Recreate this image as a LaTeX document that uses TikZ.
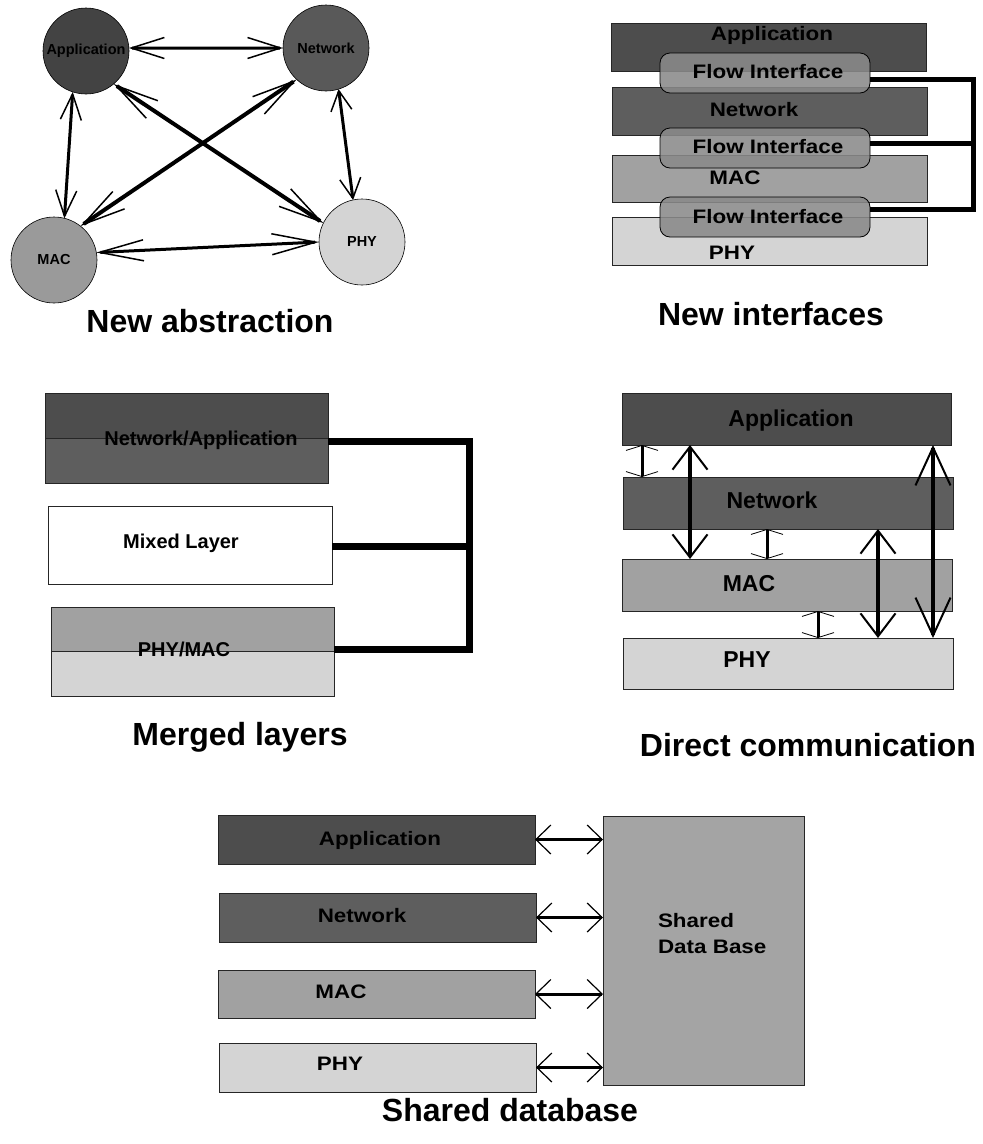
\documentclass[tikz,border=0pt]{standalone}
\usepackage{fontspec}
\setmainfont{Liberation Sans}
\newfontfamily\stf[FakeStretch=1.15]{Liberation Sans}
\usetikzlibrary{arrows.meta}
\definecolor{cApp}{HTML}{4D4D4D}
\definecolor{cNet}{HTML}{5E5E5E}
\definecolor{cMac}{HTML}{A1A1A1}
\definecolor{cPhy}{HTML}{D4D4D4}
\definecolor{cFlow}{HTML}{8A8A8A}
\definecolor{cDB}{HTML}{A4A4A4}
\definecolor{cCApp}{HTML}{434343}
\definecolor{cCNet}{HTML}{595959}
\definecolor{cCMac}{HTML}{9A9A9A}
\definecolor{cCPhy}{HTML}{D4D4D4}
\definecolor{cEdge}{HTML}{262626}
\begin{document}
\begin{tikzpicture}[x=1pt,y=-1pt,
  every node/.style={inner sep=0pt,outer sep=0pt},
  circ/.style={circle,draw=black,line width=0.6pt,minimum size=86pt,font=\bfseries\fontsize{14.5}{16}\selectfont},
  layer/.style={draw=cEdge,line width=0.8pt,anchor=north west},
  title/.style={font=\bfseries\fontsize{32}{36}\selectfont,anchor=base},
  trtext/.style={font=\stf\bfseries\fontsize{19.5}{22}\selectfont,anchor=base},
  mltext/.style={font=\bfseries\fontsize{20}{22}\selectfont,anchor=base},
  mrtext/.style={font=\bfseries\fontsize{23}{26}\selectfont,anchor=base},
  bttext/.style={font=\stf\bfseries\fontsize{19.5}{26}\selectfont,anchor=base},
  flow/.style={rounded corners=10pt,draw=black,line width=0.8pt,fill=cFlow,fill opacity=0.88,minimum width=210pt,minimum height=40pt,anchor=north west},
  bus/.style={line width=5pt,line join=miter},
  tl/.style={line width=3pt},
  tlh/.style={arrows={Straight Barb[length=#1pt,width=21pt,line width=1.5pt]-Straight Barb[length=#1pt,width=21pt,line width=1.5pt]}},
  sm/.style={line width=3pt,arrows={Straight Barb[length=5pt,width=32pt,line width=0.8pt]-Straight Barb[length=5pt,width=32pt,line width=0.8pt]}},
  big/.style={line width=4.5pt,arrows={Straight Barb[length=#1pt,width=35pt,line width=2pt]-Straight Barb[length=#1pt,width=35pt,line width=2pt]}},
  bar/.style={line width=3pt,arrows={Straight Barb[length=15pt,width=29pt,line width=1.2pt]-Straight Barb[length=15pt,width=29pt,line width=1.2pt]}}
]
\useasboundingbox (0,0) rectangle (983,1144);

% ---------- New abstraction ----------
\node[circ,fill=cCApp] (app) at (86,51) {Application};
\node[circ,fill=cCNet] (net) at (326,48) {Network};
\node[circ,fill=cCMac] (mac) at (54,260) {MAC};
\node[circ,fill=cCPhy] (phy) at (362,242) {PHY};
\draw[tl,tlh=33] (app.4) -- (net.180);
\draw[tl,tlh=26] (app.-108) -- (mac.76);
\draw[tl,tlh=20] (net.-73) -- (phy.102);
\draw[tl,tlh=44] (mac.10) -- (phy.180);
\draw[tl,line width=4pt,tlh=43] (app.-50) -- (phy.154);
\draw[tl,line width=4pt,tlh=43] (net.227) -- (mac.52);
\node[title] (t1) at (210,332) {New abstraction};

% ---------- New interfaces ----------
\node[layer,fill=cApp,minimum width=315pt,minimum height=48pt] (trA) at (611,23) {};
\node[layer,fill=cNet,minimum width=315pt,minimum height=48pt] (trN) at (612,87) {};
\node[layer,fill=cMac,minimum width=315pt,minimum height=47pt] (trM) at (612,155) {};
\node[layer,fill=cPhy,minimum width=315pt,minimum height=48pt] (trP) at (612,217) {};
\node[trtext] (trAt) at (772,40) {Application};
\node[trtext] (trNt) at (754,116) {Network};
\node[trtext] (trMt) at (735,184) {MAC};
\node[trtext] (trPt) at (732,259) {PHY};
\node[flow] (fi1) at (660,53) {};
\node[flow] (fi2) at (660,128) {};
\node[flow] (fi3) at (660,197) {};
\node[trtext] (fi1t) at (768,78) {Flow Interface};
\node[trtext] (fi2t) at (768,153) {Flow Interface};
\node[trtext] (fi3t) at (768,223) {Flow Interface};
\coordinate (bt) at (973,79);
\coordinate (bb) at (973,209);
\coordinate (f1) at ([yshift=-6pt]fi1.east);
\coordinate (f2) at ([yshift=5pt]fi2.east);
\coordinate (f3) at ([yshift=8pt]fi3.east);
\draw[bus] (f1) -- (bt) -- (bb) -- (f3);
\draw[bus] (f2) -- (f2 -| bt);
\node[title] (t2) at (771,325) {New interfaces};

% ---------- Merged layers ----------
\node[layer,fill=cNet,minimum width=283pt,minimum height=90pt,
  path picture={\fill[cApp] (path picture bounding box.north west) rectangle (path picture bounding box.east);
  \draw[cEdge,line width=0.8pt] (path picture bounding box.west) -- (path picture bounding box.east);}] (na) at (45,393) {};
\node[layer,fill=white,minimum width=284pt,minimum height=78pt] (mx) at (48,506) {};
\node[layer,fill=cPhy,minimum width=283pt,minimum height=89pt,
  path picture={\fill[cMac] (path picture bounding box.north west) rectangle (path picture bounding box.east);
  \draw[cEdge,line width=0.8pt] (path picture bounding box.west) -- (path picture bounding box.east);}] (pm) at (51,607) {};
\node[mltext] (nat) at (201,445) {Network/Application};
\node[mltext] (mxt) at (181,548) {Mixed Layer};
\node[mltext] (pmt) at (184,656) {PHY/MAC};
\coordinate (mt) at (469,441);
\coordinate (mb) at (469,649);
\coordinate (n1) at ([yshift=-3pt]na.east);
\coordinate (m1) at ([yshift=-1pt]mx.east);
\coordinate (p1) at ([yshift=2.5pt]pm.east);
\draw[bus,line width=7pt] (n1) -- (mt) -- (mb) -- (p1);
\draw[bus,line width=7pt] (m1) -- (m1 -| mt);
\node[title] (t3) at (240,745) {Merged layers};

% ---------- Direct communication ----------
\node[layer,fill=cApp,minimum width=329pt,minimum height=52pt] (drA) at (622,393) {};
\node[layer,fill=cNet,minimum width=330pt,minimum height=52pt] (drN) at (623,477) {};
\node[layer,fill=cMac,minimum width=330pt,minimum height=52pt] (drM) at (622,559) {};
\node[layer,fill=cPhy,minimum width=330pt,minimum height=51pt] (drP) at (623,638) {};
\node[mrtext] (drAt) at (791,426) {Application};
\node[mrtext] (drNt) at (772,508) {Network};
\node[mrtext] (drMt) at (749,591) {MAC};
\node[mrtext] (drPt) at (747,667) {PHY};
\coordinate (d1) at (642,0);
\coordinate (d2) at (690,0);
\coordinate (d3) at (767,0);
\coordinate (d4) at (818,0);
\coordinate (d5) at (878,0);
\coordinate (d6) at (933,0);
\draw[sm] (d1 |- drA.south) -- (d1 |- drN.north);
\draw[big=23] (d2 |- drA.south) -- (d2 |- drM.north);
\draw[sm] (d3 |- drN.south) -- (d3 |- drM.north);
\draw[sm] (d4 |- drM.south) -- (d4 |- drP.north);
\draw[big=23] (d5 |- drN.south) -- (d5 |- drP.north);
\draw[big=38] (d6 |- drA.south) -- (d6 |- drP.north);
\node[title] (t4) at (808,756) {Direct communication};

% ---------- Shared database ----------
\node[layer,fill=cApp,minimum width=317pt,minimum height=49pt] (bA) at (218,815) {};
\node[layer,fill=cNet,minimum width=317pt,minimum height=49pt] (bN) at (219,893) {};
\node[layer,fill=cMac,minimum width=317pt,minimum height=48pt] (bM) at (218,970) {};
\node[layer,fill=cPhy,minimum width=317pt,minimum height=49pt] (bP) at (219,1043) {};
\node[layer,fill=cDB,minimum width=201pt,minimum height=269pt] (db) at (603,816) {};
\node[bttext] (bAt) at (380,845) {Application};
\node[bttext] (bNt) at (362,922) {Network};
\node[bttext] (bMt) at (341,998) {MAC};
\node[bttext] (bPt) at (340,1070) {PHY};
\node[bttext,anchor=north west,align=left] (dbt) at (658,913.5) {Shared\\Data Base};
\draw[bar] (bA.east) -- (bA.east -| db.west);
\draw[bar] (bN.east) -- (bN.east -| db.west);
\draw[bar] (bM.east) -- (bM.east -| db.west);
\draw[bar] (bP.east) -- (bP.east -| db.west);
\node[title] (t5) at (510,1121) {Shared database};
\end{tikzpicture}
\end{document}
